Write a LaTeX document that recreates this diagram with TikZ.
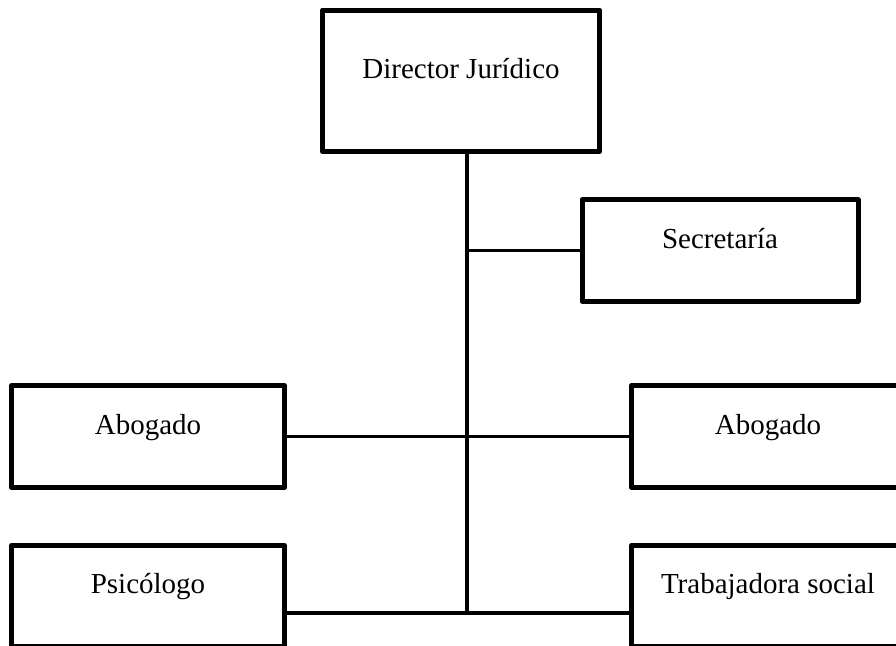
\documentclass[tikz,border=0pt]{standalone}
\usepackage{fontspec}
\setmainfont{Liberation Serif}

\begin{document}
\begin{tikzpicture}[x=0.75pt,y=-0.75pt,
    cargo/.style={draw,rectangle,line width=3.75pt,line join=round,
      minimum width=204.75pt,minimum height=76.1pt,
      font=\fontsize{21.75}{26}\selectfont,text height=14.4pt,text depth=18pt},
    linea/.style={line width=2.6pt}]
  \path[use as bounding box,clip] (0,0) rectangle (896,646);

  \node[cargo,minimum width=207.75pt,minimum height=106.1pt] (director) at (461,80.75) {Director Jurídico};
  \node[cargo,minimum width=207pt] (secretaria) at (720,250.5) {Secretaría};
  \node[cargo] (abogadoI) at (148,436.5) {Abogado};
  \node[cargo] (abogadoD) at (768,436.5) {Abogado};
  \node[cargo] (psicologo) at (148,596.25) {Psicólogo};
  \node[cargo] (trabajadora) at (768,596.25) {Trabajadora social};
  \coordinate (tronco) at (467,613);

  \draw[linea] (director.south -| tronco) -- (tronco);
  \draw[linea] (tronco |- secretaria.west) -- (secretaria.west);
  \draw[linea] (abogadoI.east) -- (abogadoD.west);
  \draw[linea] (psicologo.east |- tronco) -- (trabajadora.west |- tronco);
\end{tikzpicture}
\end{document}
